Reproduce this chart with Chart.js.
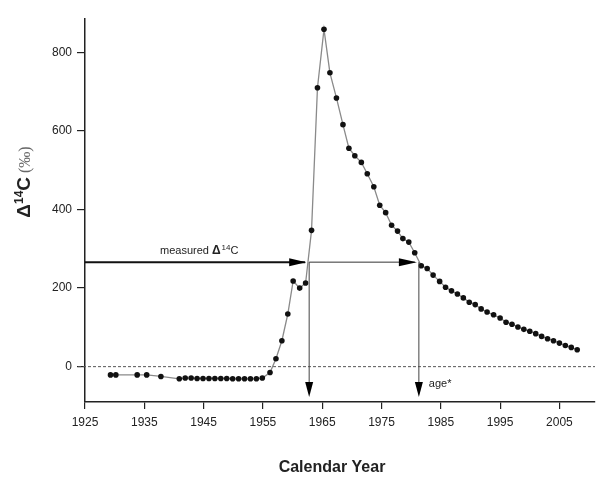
<!DOCTYPE html>
<html>
<head>
<meta charset="utf-8">
<script src="https://cdn.jsdelivr.net/npm/chart.js@4.4.0/dist/chart.umd.min.js"></script>
<style>
html, body { margin: 0; padding: 0; background: #fff; }
#wrap { width: 599px; height: 483px; }
</style>
</head>
<body>
<div id="wrap"><canvas id="bombCurve"></canvas></div>
<script>
// bomb curve data
const years = [1929.3, 1930.2, 1933.8, 1935.4, 1937.8,
  1940.9, 1941.9, 1942.9, 1943.9, 1944.9, 1945.9, 1946.9, 1947.9, 1948.9, 1949.9,
  1950.9, 1951.9, 1952.9, 1953.9, 1954.9,
  1956.2, 1957.2, 1958.2, 1959.2, 1960.1, 1961.2, 1962.2, 1963.2, 1964.2, 1965.3,
  1966.3, 1967.4, 1968.5, 1969.5, 1970.5, 1971.6, 1972.6, 1973.7, 1974.7, 1975.7,
  1976.7, 1977.7, 1978.6, 1979.6, 1980.6, 1981.7, 1982.7, 1983.7, 1984.8, 1985.8,
  1986.8, 1987.8, 1988.8, 1989.8, 1990.8, 1991.8, 1992.8, 1993.9, 1995, 1996,
  1997, 1998, 1999, 2000, 2001, 2002, 2003, 2004, 2005, 2006, 2007, 2008];
const delta14C = [-21, -21, -21, -21, -25,
  -31, -29, -29, -30, -30, -30, -30, -30, -30, -31,
  -31, -31, -31, -31, -29,
  -15, 20, 66, 134, 218, 200, 213, 347, 710, 859,
  748, 684, 616, 556, 537, 520, 491, 458, 411, 392,
  360, 345, 326, 317, 290, 257, 250, 233, 217, 202,
  193, 185, 175, 164, 158, 147, 139, 132, 124, 113,
  108, 101, 95, 90, 84, 77, 71, 66, 60, 54, 49, 43];

const xTicks = [1925, 1935, 1945, 1955, 1965, 1975, 1985, 1995, 2005];
const yTicks = [0, 200, 400, 600, 800];

// the reading shown by the arrows
const measuredValue = 266;
const ageYears = [1962.8, 1981.3];

const points = years.map((y, i) => ({ x: y, y: delta14C[i] }));

function arrowHead(ctx, x, y, dir, len, half) {
  ctx.beginPath();
  if (dir === 'right') {
    ctx.moveTo(x, y);
    ctx.lineTo(x - len, y - half);
    ctx.lineTo(x - len, y + half);
  } else {
    ctx.moveTo(x, y);
    ctx.lineTo(x - half, y - len);
    ctx.lineTo(x + half, y - len);
  }
  ctx.closePath();
  ctx.fill();
}

const decorations = {
  id: 'decorations',
  beforeDatasetsDraw(chart) {
    const ctx = chart.ctx, a = chart.chartArea;
    const y0 = chart.scales.y.getPixelForValue(0);
    ctx.save();
    ctx.strokeStyle = '#555';
    ctx.lineWidth = 1;
    ctx.setLineDash([3, 2]);
    ctx.beginPath();
    ctx.moveTo(a.left - 7, y0);
    ctx.lineTo(a.right, y0);
    ctx.stroke();
    ctx.restore();
  },
  afterDatasetsDraw(chart) {
    const ctx = chart.ctx, a = chart.chartArea;
    const xs = chart.scales.x, ys = chart.scales.y;
    const ym = ys.getPixelForValue(measuredValue);
    const x1 = xs.getPixelForValue(ageYears[0]);
    const x2 = xs.getPixelForValue(ageYears[1]);
    const tipY = a.bottom - 5;
    ctx.save();
    ctx.fillStyle = '#000';
    // thick part of the horizontal arrow
    ctx.strokeStyle = '#111';
    ctx.lineWidth = 2;
    ctx.beginPath();
    ctx.moveTo(a.left, ym);
    ctx.lineTo(x1 - 4, ym);
    ctx.stroke();
    arrowHead(ctx, x1 - 3, ym, 'right', 17, 4);
    // thin part
    ctx.strokeStyle = '#333';
    ctx.lineWidth = 1;
    ctx.beginPath();
    ctx.moveTo(x1, ym);
    ctx.lineTo(x2 - 4, ym);
    ctx.stroke();
    arrowHead(ctx, x2 - 2, ym, 'right', 18, 4);
    // vertical arrows
    ctx.strokeStyle = '#444';
    [x1, x2].forEach(x => {
      ctx.beginPath();
      ctx.moveTo(x, ym);
      ctx.lineTo(x, tipY - 10);
      ctx.stroke();
      arrowHead(ctx, x, tipY, 'down', 15, 4);
    });

    // annotation texts
    ctx.fillStyle = '#222';
    ctx.textBaseline = 'alphabetic';
    ctx.textAlign = 'left';
    let tx = 160, ty = 254;
    ctx.font = '11px "Liberation Sans", Arial, sans-serif';
    ctx.fillText('measured ', tx, ty);
    tx += ctx.measureText('measured ').width;
    ctx.font = 'bold 12px "Liberation Sans", Arial, sans-serif';
    ctx.fillText('\u0394', tx, ty);
    tx += ctx.measureText('\u0394').width + 1;
    ctx.font = '8px "Liberation Sans", Arial, sans-serif';
    ctx.fillText('14', tx, ty - 4);
    tx += ctx.measureText('14').width;
    ctx.font = '11px "Liberation Sans", Arial, sans-serif';
    ctx.fillText('C', tx, ty);
    ctx.fillText('age*', x2 + 10, 387);

    // x axis title
    ctx.font = 'bold 16px "Liberation Sans", Arial, sans-serif';
    ctx.textAlign = 'center';
    ctx.fillStyle = '#222';
    ctx.fillText('Calendar Year', (a.left + a.right) / 2 - 8, 472);

    // y axis title, rotated
    ctx.translate(24, 182);
    ctx.rotate(-Math.PI / 2);
    ctx.textAlign = 'left';
    const parts = [
      ['\u0394', 'bold 19px "Liberation Sans", Arial, sans-serif', 0, '#222'],
      ['14', 'bold 12px "Liberation Sans", Arial, sans-serif', -7, '#222'],
      ['C', 'bold 19px "Liberation Sans", Arial, sans-serif', 0, '#222'],
      [' (\u2030)', '16px "Liberation Serif", serif', 0, '#666']
    ];
    let w = 0;
    parts.forEach(p => { ctx.font = p[1]; w += ctx.measureText(p[0]).width; });
    let px = -w / 2;
    parts.forEach(p => {
      ctx.font = p[1];
      ctx.fillStyle = p[3];
      ctx.fillText(p[0], px, 6 + p[2]);
      px += ctx.measureText(p[0]).width;
    });
    ctx.restore();
  }
};

const ctxC = document.getElementById('bombCurve').getContext('2d');
new Chart(ctxC, {
  type: 'line',
  data: {
    datasets: [{
      data: points,
      borderColor: '#8a8a8a',
      borderWidth: 1.3,
      pointBackgroundColor: '#111',
      pointBorderColor: '#111',
      pointRadius: 2.8,
      pointBorderWidth: 0,
      tension: 0,
      fill: false
    }]
  },
  options: {
    responsive: true,
    maintainAspectRatio: false,
    animation: false,
    devicePixelRatio: 1,
    layout: { padding: { top: 19, right: 1, left: 0, bottom: 0 } },
    plugins: { legend: { display: false }, tooltip: { enabled: false } },
    scales: {
      x: {
        type: 'linear',
        min: 1925,
        max: 2011,
        afterBuildTicks: s => { s.ticks = xTicks.map(v => ({ value: v })); },
        afterFit: s => { s.height = 81; },
        grid: { drawOnChartArea: false, drawTicks: true, tickLength: 7, tickColor: '#222', lineWidth: 1.2 },
        border: { display: true, color: '#222', width: 1.5 },
        ticks: {
          color: '#222',
          padding: 6,
          maxRotation: 0,
          font: { family: '"Liberation Sans", Arial, sans-serif', size: 12 },
          callback: v => String(v)
        }
      },
      y: {
        min: -90,
        max: 885,
        afterBuildTicks: s => { s.ticks = yTicks.map(v => ({ value: v })); },
        afterFit: s => { s.width = 85; },
        grid: { drawOnChartArea: false, drawTicks: true, tickLength: 8, tickColor: '#222', lineWidth: 1.2 },
        border: { display: true, color: '#222', width: 1.5 },
        ticks: {
          color: '#222',
          padding: 5,
          font: { family: '"Liberation Sans", Arial, sans-serif', size: 12 },
          callback: v => String(v)
        }
      }
    }
  },
  plugins: [decorations]
});
</script>
</body>
</html>
